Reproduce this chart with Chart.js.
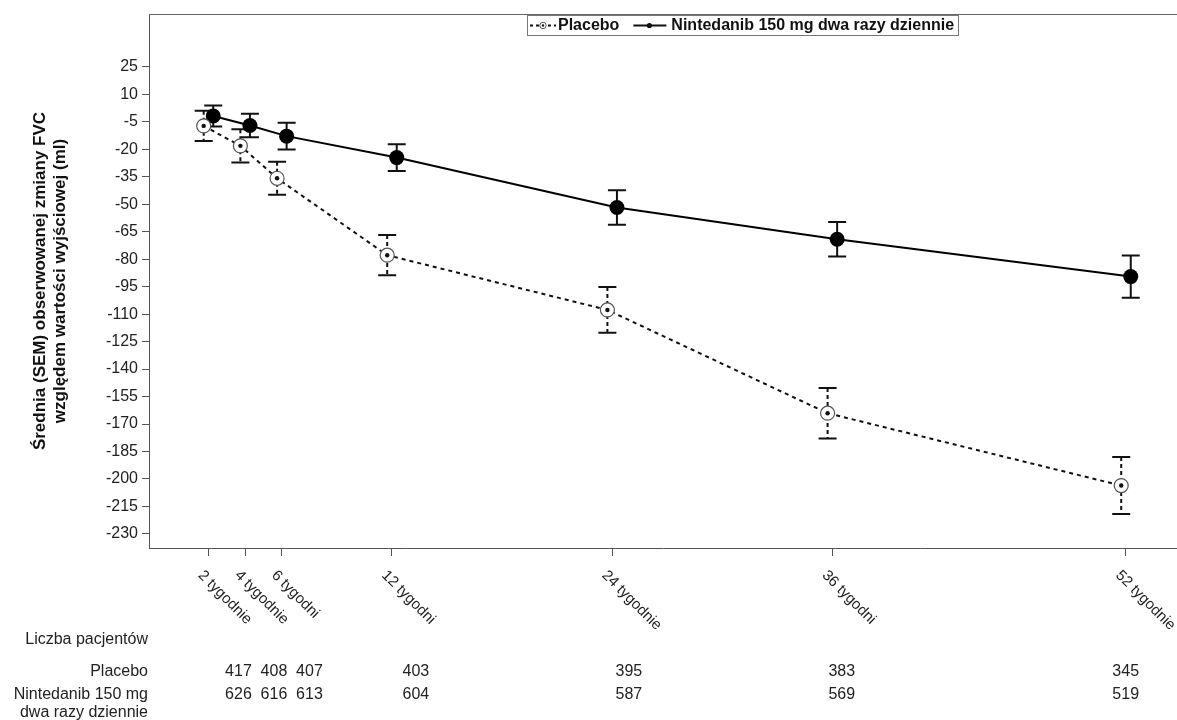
<!DOCTYPE html>
<html>
<head>
<meta charset="utf-8">
<script src="https://cdn.jsdelivr.net/npm/chart.js@4"></script>
<style>
html,body{margin:0;padding:0;background:#fff;}
canvas{display:block;}
</style>
</head>
<body>
<canvas id="c" width="1177" height="720"></canvas>
<script>
const weeks = [2, 4, 6, 12, 24, 36, 52];
const xTickLabels = ['2 tygodnie', '4 tygodnie', '6 tygodni', '12 tygodni', '24 tygodnie', '36 tygodni', '52 tygodnie'];
const yTicks = [25, 10, -5, -20, -35, -50, -65, -80, -95, -110, -125, -140, -155, -170, -185, -200, -215, -230];
const placeboMean = [-7.2, -18.1, -35.8, -77.8, -107.7, -164.1, -203.6];
const placeboSEM = [8.2, 9.1, 9.0, 11.0, 12.5, 13.8, 15.6];
const nintedanibMean = [-1.8, -7.0, -12.8, -24.5, -51.8, -69.1, -89.5];
const nintedanibSEM = [5.8, 6.4, 7.3, 7.3, 9.4, 9.4, 11.5];
const placeboN = [417, 408, 407, 403, 395, 383, 345];
const nintedanibN = [626, 616, 613, 604, 587, 569, 519];
const seriesLabels = ['Placebo', 'Nintedanib 150 mg dwa razy dziennie'];
const tableTitle = 'Liczba pacjentów';
const tableRowLabels = [['Placebo'], ['Nintedanib 150 mg', 'dwa razy dziennie']];
const yTitle = ['Średnia (SEM) obserwowanej zmiany FVC', 'względem wartości wyjściowej (ml)'];

const FONT = 'Liberation Sans, Arial, Helvetica, sans-serif';
const DODGE = 0.26;

const overlay = {
  id: 'overlay',
  beforeDatasetsDraw(chart) {
    const ctx = chart.ctx, xs = chart.scales.x, ys = chart.scales.y;
    const sets = [
      {mean: placeboMean, sem: placeboSEM, off: -DODGE, dash: [4, 3]},
      {mean: nintedanibMean, sem: nintedanibSEM, off: DODGE, dash: []}
    ];
    ctx.save();
    ctx.strokeStyle = '#111';
    ctx.lineWidth = 2;
    sets.forEach(s => {
      weeks.forEach((w, i) => {
        const px = xs.getPixelForValue(w + s.off);
        const yt = ys.getPixelForValue(s.mean[i] + s.sem[i]);
        const yb = ys.getPixelForValue(s.mean[i] - s.sem[i]);
        ctx.setLineDash(s.dash);
        ctx.beginPath(); ctx.moveTo(px, yt); ctx.lineTo(px, yb); ctx.stroke();
        ctx.setLineDash([]);
        ctx.beginPath();
        ctx.moveTo(px - 9, yt); ctx.lineTo(px + 9, yt);
        ctx.moveTo(px - 9, yb); ctx.lineTo(px + 9, yb);
        ctx.stroke();
      });
    });
    ctx.restore();
  },
  afterDatasetsDraw(chart) {
    const ctx = chart.ctx, xs = chart.scales.x, ys = chart.scales.y;
    ctx.save();
    ctx.fillStyle = '#111';
    weeks.forEach((w, i) => {
      const px = xs.getPixelForValue(w - DODGE);
      const py = ys.getPixelForValue(placeboMean[i]);
      ctx.beginPath(); ctx.arc(px, py, 2.2, 0, Math.PI * 2); ctx.fill();
    });
    ctx.restore();
  },
  afterDraw(chart) {
    const ctx = chart.ctx, xs = chart.scales.x, a = chart.chartArea;
    ctx.save();
    // top frame line
    ctx.strokeStyle = '#666';
    ctx.lineWidth = 1;
    ctx.beginPath(); ctx.moveTo(a.left, a.top + 0.5); ctx.lineTo(a.right, a.top + 0.5); ctx.stroke();

    // rotated x labels
    ctx.fillStyle = '#222';
    ctx.font = '15px ' + FONT;
    ctx.textAlign = 'left';
    ctx.textBaseline = 'middle';
    weeks.forEach((w, i) => {
      const px = xs.getPixelForValue(w);
      ctx.save();
      ctx.translate(px - 8, a.bottom + 25);
      ctx.rotate(Math.PI / 4);
      ctx.fillText(xTickLabels[i], 0, 0);
      ctx.restore();
    });

    // patient table
    ctx.font = '16px ' + FONT;
    const rowX = a.left - 1;
    ctx.textAlign = 'right';
    ctx.fillText(tableTitle, rowX, 640);
    ctx.fillText(tableRowLabels[0][0], rowX, 672);
    ctx.fillText(tableRowLabels[1][0], rowX, 695);
    ctx.fillText(tableRowLabels[1][1], rowX, 713);
    ctx.textAlign = 'center';
    const p0 = xs.getPixelForValue(weeks[0]);
    weeks.forEach((w, i) => {
      const px = xs.getPixelForValue(w);
      const tx = p0 + 30 + (px - p0) * 0.967;
      ctx.fillText(String(placeboN[i]), tx, 672);
      ctx.fillText(String(nintedanibN[i]), tx, 695);
    });

    // legend
    const lx = 527, ly = 15, lw = 431, lh = 20, cy = ly + lh / 2 + 0.5;
    ctx.strokeStyle = '#777';
    ctx.lineWidth = 1;
    ctx.strokeRect(lx + 0.5, ly + 0.5, lw, lh);
    ctx.strokeStyle = '#111';
    ctx.lineWidth = 2;
    ctx.setLineDash([3, 3]);
    ctx.beginPath(); ctx.moveTo(lx + 3, cy); ctx.lineTo(lx + 29, cy); ctx.stroke();
    ctx.setLineDash([]);
    ctx.fillStyle = '#fff';
    ctx.lineWidth = 1;
    ctx.strokeStyle = '#555';
    ctx.beginPath(); ctx.arc(lx + 16, cy, 3.2, 0, Math.PI * 2); ctx.fill(); ctx.stroke();
    ctx.fillStyle = '#111';
    ctx.beginPath(); ctx.arc(lx + 16, cy, 1.2, 0, Math.PI * 2); ctx.fill();
    ctx.font = 'bold 16px ' + FONT;
    ctx.textAlign = 'left';
    ctx.fillStyle = '#111';
    ctx.fillText(seriesLabels[0], lx + 31, cy);
    const w0 = ctx.measureText(seriesLabels[0]).width;
    const s2 = lx + 31 + w0 + 14;
    ctx.strokeStyle = '#111';
    ctx.lineWidth = 2;
    ctx.beginPath(); ctx.moveTo(s2, cy); ctx.lineTo(s2 + 33, cy); ctx.stroke();
    ctx.beginPath(); ctx.arc(s2 + 16, cy, 2.6, 0, Math.PI * 2); ctx.fill();
    ctx.fillText(seriesLabels[1], s2 + 38, cy);
    ctx.restore();
  }
};

new Chart(document.getElementById('c'), {
  type: 'line',
  data: {
    datasets: [
      {
        label: seriesLabels[0],
        data: weeks.map((w, i) => ({x: w - DODGE, y: placeboMean[i]})),
        borderColor: '#111',
        borderWidth: 2,
        borderDash: [4, 4],
        tension: 0,
        pointRadius: 7,
        pointBackgroundColor: '#fff',
        pointBorderColor: '#555',
        pointBorderWidth: 1.2
      },
      {
        label: seriesLabels[1],
        data: weeks.map((w, i) => ({x: w + DODGE, y: nintedanibMean[i]})),
        borderColor: '#000',
        borderWidth: 2,
        tension: 0,
        pointRadius: 7.5,
        pointBackgroundColor: '#000',
        pointBorderColor: '#000',
        pointBorderWidth: 0
      }
    ]
  },
  options: {
    responsive: false,
    animation: false,
    devicePixelRatio: 1,
    layout: {autoPadding: false, padding: {top: 14, left: 0, right: 0, bottom: 0}},
    plugins: {legend: {display: false}, tooltip: {enabled: false}},
    scales: {
      x: {
        type: 'linear',
        min: -1.24,
        max: 54.78,
        afterBuildTicks: s => { s.ticks = weeks.map(v => ({value: v})); },
        afterFit: s => { s.height = 172; },
        grid: {drawOnChartArea: false, drawTicks: true, tickLength: 8, color: '#555'},
        border: {color: '#555', width: 1},
        ticks: {display: false}
      },
      y: {
        type: 'linear',
        min: -237.7,
        max: 53.9,
        afterBuildTicks: s => { s.ticks = yTicks.map(v => ({value: v})); },
        afterFit: s => { s.width = 149; },
        grid: {drawOnChartArea: false, drawTicks: true, tickLength: 7, color: '#555'},
        border: {color: '#555', width: 1},
        ticks: {font: {family: FONT, size: 16}, color: '#222', padding: 4, autoSkip: false},
        title: {
          display: true,
          text: yTitle,
          font: {family: FONT, size: 17, weight: 'bold', lineHeight: 1.2},
          color: '#111',
          padding: {top: 30, bottom: 0}
        }
      }
    }
  },
  plugins: [overlay]
});
</script>
</body>
</html>
